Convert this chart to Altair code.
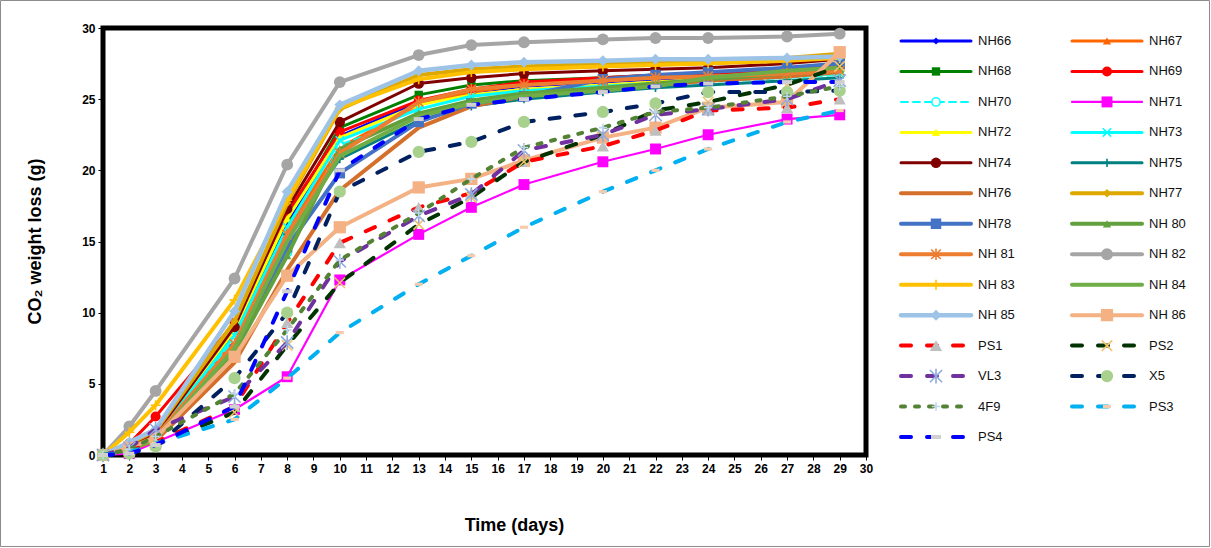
import altair as alt
import pandas as pd

# Sampling days
days = [1, 2, 3, 6, 8, 10, 13, 15, 17, 20, 22, 24, 27, 29]

# Cumulative CO2 weight loss (g) per strain
nh66 = [0, 0.5, 1.2, 8.5, 16.2, 22.4, 24.8, 25.5, 25.9, 26.2, 26.4, 26.6, 26.9, 27.1]
nh67 = [0, 0.6, 1.5, 8.0, 15.8, 21.6, 24.6, 25.5, 26.0, 26.3, 26.5, 26.7, 27.0, 27.4]
nh68 = [0, 0.6, 1.6, 8.7, 16.6, 23.0, 25.3, 26.0, 26.3, 26.5, 26.7, 26.8, 27.0, 27.2]
nh69 = [0, 0.8, 2.7, 9.3, 17.0, 22.7, 24.9, 25.7, 26.2, 26.5, 26.7, 26.8, 27.0, 27.2]
nh70 = [0, 0.3, 1.0, 8.2, 14.2, 21.8, 23.8, 24.8, 25.3, 25.7, 26.0, 26.2, 26.5, 26.7]
nh71 = [0, 0.1, 0.9, 3.2, 5.5, 12.3, 15.5, 17.4, 19.0, 20.6, 21.5, 22.5, 23.6, 23.9]
nh72 = [0, 0.5, 1.3, 8.8, 16.6, 22.3, 24.6, 25.3, 25.7, 26.0, 26.2, 26.4, 26.6, 26.8]
nh73 = [0, 0.5, 1.3, 8.4, 16.0, 22.1, 24.3, 25.2, 25.6, 25.9, 26.1, 26.3, 26.6, 26.8]
nh74 = [0, 0.7, 1.5, 9.0, 17.3, 23.4, 26.1, 26.5, 26.8, 27.0, 27.1, 27.2, 27.5, 27.8]
nh75 = [0, 0.4, 1.1, 7.6, 15.5, 20.8, 23.5, 24.5, 25.0, 25.5, 25.8, 26.0, 26.3, 26.5]
nh76 = [0, 0.4, 1.0, 6.5, 13.0, 18.6, 23.0, 24.5, 25.2, 25.7, 26.0, 26.3, 26.6, 26.9]
nh77 = [0, 0.8, 1.7, 9.4, 17.7, 24.3, 26.7, 27.1, 27.3, 27.5, 27.6, 27.7, 27.9, 28.2]
nh78 = [0, 0.5, 1.2, 7.4, 14.6, 19.8, 23.4, 24.7, 25.2, 26.4, 26.7, 26.9, 27.2, 27.5]
nh80 = [0, 0.4, 1.2, 7.2, 14.0, 21.5, 24.0, 24.9, 25.4, 25.8, 26.1, 26.4, 26.8, 27.1]
nh81 = [0, 0.5, 1.3, 7.8, 15.5, 21.2, 24.8, 25.7, 26.0, 26.3, 26.5, 26.6, 26.8, 27.0]
nh82 = [0, 2.0, 4.5, 12.4, 20.4, 26.2, 28.1, 28.8, 29.0, 29.2, 29.3, 29.3, 29.4, 29.6]
nh83 = [0, 1.6, 3.5, 10.9, 17.9, 24.4, 26.4, 26.9, 27.1, 27.3, 27.4, 27.5, 27.7, 27.9]
nh84 = [0, 0.4, 1.1, 7.5, 15.0, 21.0, 23.8, 24.7, 25.2, 25.6, 25.9, 26.5, 27.0, 27.2]
nh85 = [0, 0.9, 1.8, 10.1, 18.5, 24.6, 27.0, 27.4, 27.6, 27.7, 27.8, 27.8, 27.9, 28.0]
nh86 = [0, 0.5, 1.2, 6.9, 12.6, 16.0, 18.8, 19.4, 20.7, 22.3, 23.0, 24.4, 24.8, 28.3]
ps1 = [0, 0.3, 0.9, 3.4, 9.3, 14.9, 17.4, 18.4, 20.6, 21.7, 22.8, 24.2, 24.4, 25.0]
ps2 = [0, 0.2, 0.7, 3.0, 7.7, 12.1, 16.2, 18.1, 20.6, 22.5, 24.2, 24.8, 26.0, 27.3]
vl3 = [0, 0.5, 1.8, 4.1, 7.9, 13.6, 16.8, 18.3, 21.4, 22.5, 23.9, 24.3, 25.0, 26.3]
x5 = [0, 0.1, 0.6, 5.4, 10.0, 18.5, 21.3, 22.0, 23.4, 24.1, 24.7, 25.5, 25.5, 25.6]
f49 = [0, 0.4, 1.3, 4.3, 8.8, 13.7, 17.0, 19.4, 21.6, 23.0, 24.1, 24.4, 25.2, 25.9]
ps3 = [0, 0.2, 0.8, 2.5, 5.4, 8.6, 12.0, 14.0, 16.0, 18.5, 20.0, 21.5, 23.4, 24.2]
ps4 = [0, 0.1, 0.7, 3.4, 11.5, 20.0, 23.6, 24.6, 25.0, 25.5, 25.9, 26.1, 26.2, 26.2]

names = ["NH66", "NH67", "NH68", "NH69", "NH70", "NH71", "NH72", "NH73", "NH74",
         "NH75", "NH76", "NH77", "NH78", "NH 80", "NH 81", "NH 82", "NH 83", "NH 84",
         "NH 85", "NH 86", "PS1", "PS2", "VL3", "X5", "4F9", "PS3", "PS4"]
values = [nh66, nh67, nh68, nh69, nh70, nh71, nh72, nh73, nh74, nh75, nh76, nh77,
          nh78, nh80, nh81, nh82, nh83, nh84, nh85, nh86, ps1, ps2, vl3, x5, f49,
          ps3, ps4]

# Line styling
line_colors = ["#0000FF", "#FF6600", "#008000", "#FF0000", "#00FFFF", "#FF00FF",
               "#FFFF00", "#00FFFF", "#800000", "#008080", "#D4702C", "#DDA800",
               "#4472C4", "#62A03E", "#ED7D31", "#A5A5A5", "#FFC000", "#70AD47",
               "#9DC3E6", "#F4B183", "#FF0000", "#003300", "#7030A0", "#002060",
               "#548235", "#00B0F0", "#0000FF"]
line_widths = [3, 3, 3, 3, 2, 2.2, 3, 3, 3, 3, 4, 4, 4, 4, 4, 4, 4, 4, 4.5, 4,
               4, 4, 4, 4, 4, 4, 4]
LONG = [10, 16]
SHORT = [4, 10]
line_dashes = [None, None, None, None, [7, 5], None, None, None, None, None, None,
               None, None, None, None, None, None, None, None, None,
               LONG, LONG, LONG, LONG, SHORT, LONG, LONG]

# Marker styling
X_PATH = "M-1,-1L1,1M-1,1L1,-1"
PLUS_PATH = "M0,-1L0,1M-1,0L1,0"
STAR_PATH = "M-1,-1L1,1M-1,1L1,-1M0,-1.2L0,1.2"
BAR_PATH = "M-1,-0.4L1,-0.4L1,0.4L-1,0.4Z"
marker_shapes = ["diamond", "triangle-up", "square", "circle", "circle", "square",
                 "triangle-up", X_PATH, "circle", PLUS_PATH, None, "diamond",
                 "square", "triangle-up", STAR_PATH, "circle", PLUS_PATH, None,
                 "diamond", "square", "triangle-up", X_PATH, STAR_PATH, "circle",
                 PLUS_PATH, BAR_PATH, BAR_PATH]
marker_fills = ["#0000FF", "#FF6600", "#008000", "#FF0000", "#FFFFFF", "#FF00FF",
                "#FFFF00", None, "#800000", None, None, "#DDA800",
                "#4472C4", "#62A03E", None, "#A5A5A5", None, None,
                "#9DC3E6", "#F4B183", "#BFBFBF", None, None, "#A9D18E",
                None, "#F8CBAD", "#D0D0D0"]
marker_strokes = [None, None, None, None, "#00FFFF", None, None, "#00FFFF", None,
                  "#008080", None, None, None, None, "#ED7D31", None, "#FFC000",
                  None, None, None, None, "#F2C46D", "#8FAADC", None, "#BDD7EE",
                  None, None]
marker_sizes = [50, 70, 70, 100, 70, 120, 70, 70, 110, 70, 0, 70, 110, 70, 90,
                140, 100, 0, 120, 150, 150, 110, 150, 150, 70, 64, 100]

FONT = "Liberation Sans"

x_axis = alt.Axis(values=list(range(1, 31)), title="Time (days)", grid=False,
                  domain=False, tickSize=5, tickColor="black", labelColor="black",
                  labelFont=FONT, labelFontWeight="bold", labelFontSize=12,
                  labelPadding=3, labelFlush=False, labelOverlap=False,
                  titleFont=FONT, titleFontWeight="bold", titleFontSize=18,
                  titleColor="black", titleX=411, titleY=70,
                  titleBaseline="middle", titleAlign="center")
y_axis = alt.Axis(values=[0, 5, 10, 15, 20, 25, 30], title="CO₂ weight loss (g)",
                  grid=False, domain=False, tickSize=5, tickColor="black",
                  labelColor="black", labelFont=FONT, labelFontWeight="bold",
                  labelFontSize=12, labelPadding=3, labelFlush=False,
                  titleFont=FONT, titleFontWeight="bold", titleFontSize=18,
                  titleColor="black", titleX=-68, titleY=213, titleAngle=270,
                  titleBaseline="middle", titleAlign="center")

x_enc = alt.X("day:Q", scale=alt.Scale(domain=[1, 30], nice=False, zero=False),
              axis=x_axis)
y_enc = alt.Y("value:Q", scale=alt.Scale(domain=[0, 30], nice=False), axis=y_axis)


def point_style(i):
    kw = dict(shape=marker_shapes[i], size=marker_sizes[i], opacity=1)
    if marker_fills[i] is not None:
        kw.update(filled=True, fill=marker_fills[i])
        if marker_strokes[i] is not None:
            kw.update(stroke=marker_strokes[i], strokeWidth=1.5)
        else:
            kw.update(strokeWidth=0)
    else:
        kw.update(filled=False, stroke=marker_strokes[i], strokeWidth=1.6)
    return kw


def line_style(i):
    kw = dict(color=line_colors[i], strokeWidth=line_widths[i],
              strokeJoin="round", strokeCap="round")
    if line_dashes[i] is not None:
        kw.update(strokeDash=line_dashes[i])
    return kw


main_layers = []
for i, name in enumerate(names):
    df = pd.DataFrame({"day": days, "value": values[i]})
    base = alt.Chart(df).encode(x=x_enc, y=y_enc)
    main_layers.append(base.mark_line(**line_style(i)))
    if marker_shapes[i] is not None:
        main_layers.append(base.mark_point(**point_style(i)))
plot = alt.layer(*main_layers)

# Legend: two columns of line samples with markers and labels
legend_df = pd.DataFrame({
    "name": names,
    "row": [i // 2 for i in range(len(names))],
    "col": [i % 2 for i in range(len(names))],
})
lx = alt.X("col:Q", scale=alt.Scale(domain=[0, 1], range=[798, 969]), axis=None)
ly = alt.Y("row:Q", scale=alt.Scale(domain=[0, 13], range=[13, 409]), axis=None)
legend_layers = []
for i, name in enumerate(names):
    item = alt.Chart(legend_df).transform_filter(alt.datum.name == name)
    legend_layers.append(
        item.mark_rule(x2Offset=70, **line_style(i)).encode(
            x=lx, x2=alt.X2("col:Q"), y=ly))
    if marker_shapes[i] is not None:
        legend_layers.append(
            item.mark_point(xOffset=35, **point_style(i)).encode(x=lx, y=ly))
legend_layers.append(
    alt.Chart(legend_df).mark_text(align="left", baseline="middle", dx=77,
                                   font=FONT, fontSize=13, color="#111111")
    .encode(x=lx, y=ly, text="name:N"))
# thin grey frame around the whole figure
legend_layers.append(
    alt.Chart(alt.Data(values=[{}])).mark_rect(
        fillOpacity=0, stroke="#8C8C8C", strokeWidth=1).encode(
        x=alt.value(-102.5), x2=alt.value(1106.5),
        y=alt.value(-27.5), y2=alt.value(518.5)))
legend = alt.layer(*legend_layers)

chart = (
    alt.layer(plot, legend)
    .resolve_scale(x="independent", y="independent")
    .properties(
        width=763, height=427,
        autosize=alt.AutoSizeParams(type="none"),
        padding={"left": 103, "top": 28, "right": 345, "bottom": 93},
        background="white",
    )
    .configure_view(stroke="black", strokeWidth=5, fill="white")
)

chart.save("out.html", embed_options={"renderer": "svg", "actions": False})
